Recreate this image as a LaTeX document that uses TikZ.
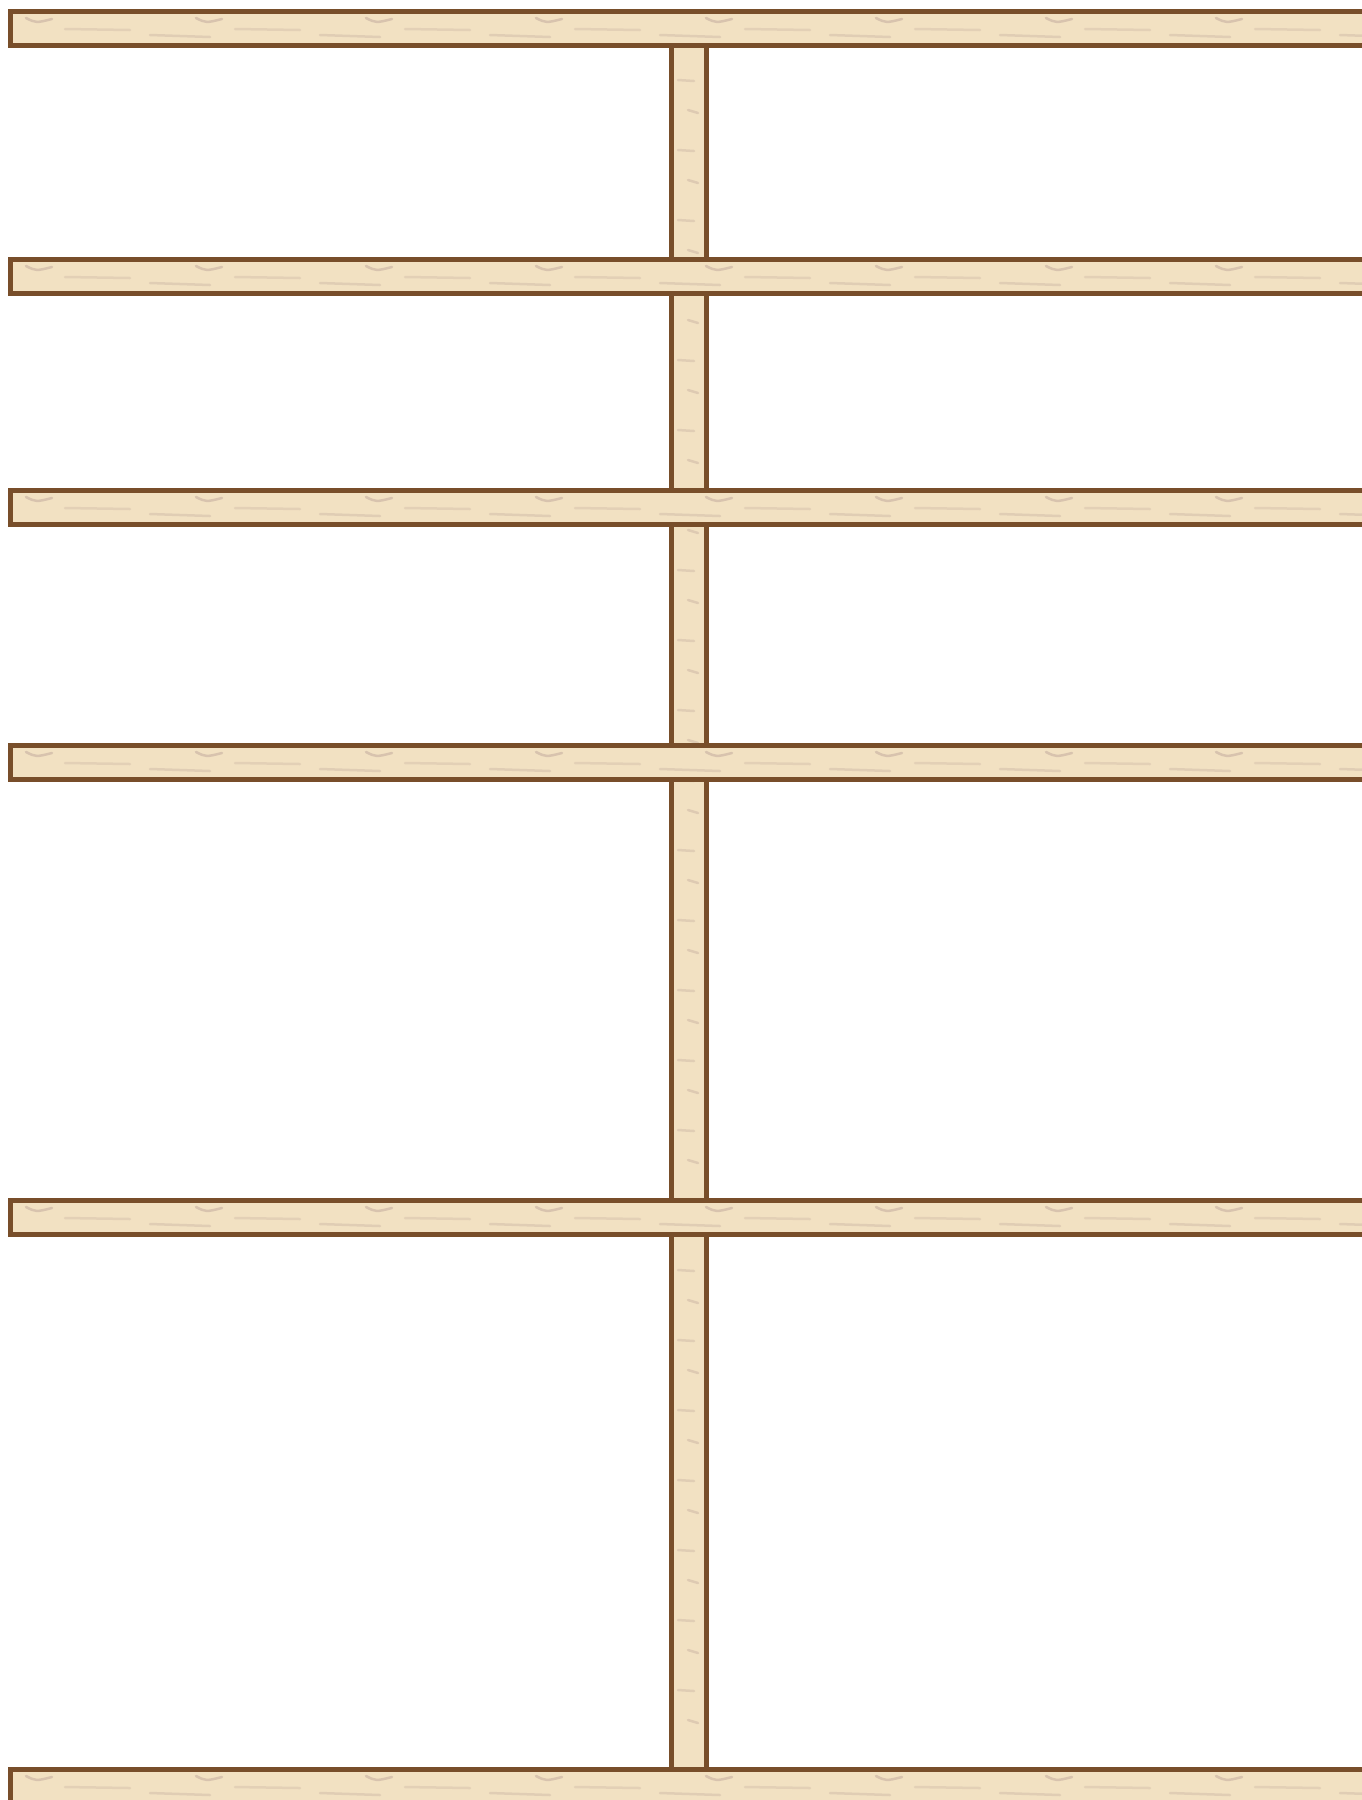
\documentclass[tikz,border=0pt]{standalone}
\usepackage{xcolor}
\usepackage{tikz}
\definecolor{woodedge}{RGB}{120,78,42}
\definecolor{woodfill}{RGB}{242,225,194}
\definecolor{woodgrain}{RGB}{185,160,150}

\begin{document}
\begin{tikzpicture}[x=1pt,y=-1pt,
  board/.style={fill=woodfill,draw=woodedge,line width=5pt},
  grain/.style={woodgrain,line width=2.5pt,line cap=round,opacity=0.45}]
  \useasboundingbox (0,0) rectangle (1362,1800);
  % upright
  \draw[board] (671.5,40) rectangle (706.5,1780);
  \foreach \y in {80,150,...,1750}
     {\draw[grain,opacity=0.3] (678,\y) -- (694,\y+1);
      \draw[grain,opacity=0.35] (688,\y+30) -- (698,\y+33);}
  % shelves
  \foreach \top in {9,257,488,743,1198,1767}
     {\draw[board] (10.8,\top+2.5) rectangle (1400,\top+36.5);
      \foreach \x in {20,190,...,1360}
         {\draw[grain] (\x+6,\top+9) .. controls (\x+16,\top+14) .. (\x+32,\top+10);
          \draw[grain,opacity=0.25] (\x+45,\top+20) -- (\x+110,\top+21);
          \draw[grain,opacity=0.3] (\x+130,\top+26) -- (\x+190,\top+28);}}
\end{tikzpicture}
\end{document}
